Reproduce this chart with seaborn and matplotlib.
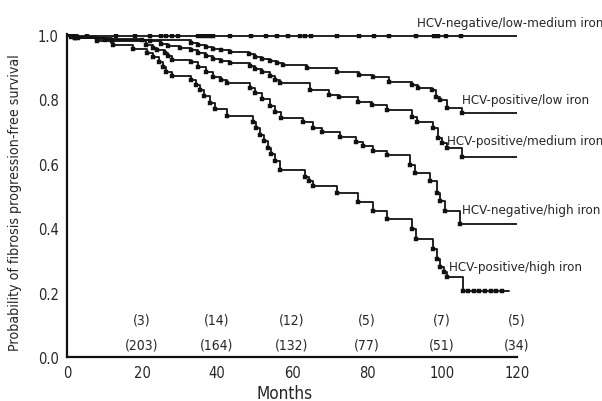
import numpy as np
import matplotlib
matplotlib.use("Agg")
from matplotlib import pyplot as plt
from matplotlib import font_manager
import seaborn as sns

# step curves: time (months) where survival changes, and survival after the change
neg_lowmed_t = [0, 120]
neg_lowmed_s = [0.997, 0.997]
neg_lowmed_cens = [5.3, 13, 18, 22, 25, 26.5, 28, 29.5, 35, 36, 37, 38, 39, 43.5, 49, 53,
                   56, 59, 62, 63.5, 65, 72, 78, 82, 86, 93, 98, 99, 101, 105]

pos_low_t = [0, 1, 8, 20, 33, 35, 37, 39, 41, 43.5, 48.5, 50, 52, 54, 56, 57.7, 64, 72,
             78, 81.7, 86, 92, 93.5, 97.3, 98.5, 99.5, 101.3, 105.3, 120]
pos_low_s = [1.0, 0.993, 0.988, 0.985, 0.975, 0.968, 0.962, 0.957, 0.952, 0.948, 0.94, 0.932,
             0.925, 0.918, 0.912, 0.907, 0.898, 0.885, 0.876, 0.87, 0.854, 0.845, 0.836, 0.83,
             0.808, 0.799, 0.774, 0.758, 0.758]

pos_med_t = [0, 2, 10, 22, 25, 27, 30, 33, 35, 37, 39, 41, 43.5, 48.8, 50, 52, 54, 55.5, 56.8,
             64.8, 70, 72.5, 77.6, 81.3, 85.3, 92, 93.3, 97.6, 98.9, 100, 101.3, 105.3, 120]
pos_med_s = [1.0, 0.99, 0.985, 0.98, 0.972, 0.965, 0.958, 0.954, 0.945, 0.935, 0.926, 0.918,
             0.913, 0.905, 0.895, 0.885, 0.872, 0.86, 0.851, 0.83, 0.815, 0.808, 0.793, 0.783,
             0.768, 0.746, 0.73, 0.712, 0.681, 0.665, 0.65, 0.622, 0.622]

neg_high_t = [0, 3, 12, 21, 23, 24, 26, 27, 28, 33, 35, 37, 39, 41, 42.7, 48.8, 50, 52, 54,
              55.5, 57, 63, 65.6, 68, 72.8, 77, 79, 81.6, 85.3, 91.5, 92.8, 96.8, 98.6, 99.5,
              100.8, 104.8, 120]
neg_high_s = [1.0, 0.99, 0.98, 0.97, 0.96, 0.954, 0.945, 0.935, 0.923, 0.915, 0.9, 0.885, 0.87,
              0.86, 0.851, 0.835, 0.82, 0.8, 0.78, 0.76, 0.743, 0.73, 0.712, 0.7, 0.684, 0.668,
              0.655, 0.64, 0.628, 0.597, 0.572, 0.545, 0.51, 0.483, 0.452, 0.412, 0.412]

pos_high_t = [0, 2, 8, 12.3, 17.6, 21.3, 23, 24.5, 25.5, 26.5, 28, 33, 34.5, 35.5, 36.5, 38,
              39.5, 42.7, 49.5, 50.5, 51.5, 52.5, 53.5, 54.5, 55.5, 56.8, 63.5, 64.5, 65.6, 72,
              77.6, 81.6, 85.3, 92, 93, 97.6, 98.6, 99.5, 100.5, 101.3, 105.6, 118]
pos_high_s = [1.0, 0.99, 0.98, 0.969, 0.957, 0.944, 0.93, 0.915, 0.9, 0.885, 0.873, 0.86, 0.845,
              0.83, 0.81, 0.79, 0.77, 0.749, 0.73, 0.71, 0.69, 0.67, 0.65, 0.63, 0.61, 0.582,
              0.56, 0.545, 0.53, 0.51, 0.48, 0.452, 0.427, 0.396, 0.365, 0.334, 0.303, 0.28,
              0.265, 0.248, 0.204, 0.204]
pos_high_cens = [107, 108.5, 110, 111.5, 113, 114.5, 116]

curve_labels = ["HCV-negative/low-medium iron", "HCV-positive/low iron",
                "HCV-positive/medium iron", "HCV-negative/high iron", "HCV-positive/high iron"]
label_xy = [(93.3, 1.04), (105.3, 0.80), (101.3, 0.672), (105.3, 0.458), (101.9, 0.282)]

tick_months = [20, 40, 60, 80, 100, 120]
events = ["(3)", "(14)", "(12)", "(5)", "(7)", "(5)"]
at_risk = ["(203)", "(164)", "(132)", "(77)", "(51)", "(34)"]

sns.set_style("white")

# the original uses a condensed face; pick a narrow one if there is one
fonts = font_manager.fontManager.ttflist
names = {f.name for f in fonts}
condensed = [f for f in fonts if 'ondensed' in f.fname or 'Narrow' in f.fname]
if 'Liberation Sans Narrow' in names:
    plt.rcParams['font.family'] = ['Liberation Sans Narrow', 'DejaVu Sans']
    fstretch, scale = 'normal', 1.0
elif condensed:
    plt.rcParams['font.family'] = [condensed[0].name, 'DejaVu Sans']
    fstretch, scale = condensed[0].stretch, 1.0
else:
    plt.rcParams['font.family'] = ['Liberation Sans', 'DejaVu Sans']
    fstretch, scale = 'normal', 0.95
plt.rcParams['font.stretch'] = fstretch

fig = plt.figure(figsize=(6.02, 4.02), dpi=100)
ax = fig.add_axes([0.1113, 0.1095, 0.7475, 0.8035])

curves = [(neg_lowmed_t, neg_lowmed_s), (pos_low_t, pos_low_s), (pos_med_t, pos_med_s),
          (neg_high_t, neg_high_s), (pos_high_t, pos_high_s)]
for t, s in curves:
    sns.lineplot(x=t, y=s, drawstyle='steps-post', color='#111111', linewidth=1.3,
                 sort=False, estimator=None, ax=ax)
    # markers at the drop points
    sns.scatterplot(x=t[1:-1], y=s[1:-1], marker='s', s=6, color='#111111',
                    edgecolor='#111111', linewidth=0.3, ax=ax)

def step_value(t, s, x):
    idx = np.searchsorted(t, x, side='right') - 1
    return np.array(s)[idx]

for t, s, cens in [(neg_lowmed_t, neg_lowmed_s, neg_lowmed_cens),
                   (pos_high_t, pos_high_s, pos_high_cens)]:
    sns.scatterplot(x=cens, y=step_value(t, s, cens), marker='s', s=5, color='#111111',
                    edgecolor='#111111', linewidth=0.3, ax=ax)

for lab, (x, y) in zip(curve_labels, label_xy):
    ax.text(x, y, lab, fontsize=9.5 * scale, ha='left', va='center', clip_on=False)

for m, e, r in zip(tick_months, events, at_risk):
    ax.text(m, 0.115, e, fontsize=10 * scale, ha='center', va='center')
    ax.text(m, 0.040, r, fontsize=10 * scale, ha='center', va='center')

ax.set_xlim(0, 120)
ax.set_ylim(0, 1.003)
ax.set_xticks(range(0, 121, 20))
ax.set_xticks(range(10, 121, 20), minor=True)
ax.set_yticks(np.arange(0, 1.01, 0.2))
ax.set_yticklabels([f"{v:.1f}" for v in np.arange(0, 1.01, 0.2)])
ax.tick_params(axis='both', which='both', direction='in', length=2, width=1.2,
               labelsize=10.5 * scale, pad=6, color='#111111')
ax.set_xlabel("Months", fontsize=12.3 * scale)
ax.set_ylabel("Probability of fibrosis progression-free survival", fontsize=10.2 * scale)
ax.xaxis.set_label_coords(0.483, -0.085)
ax.yaxis.set_label_coords(-0.099, 0.481)
sns.despine(ax=ax)
for sp in ['left', 'bottom']:
    ax.spines[sp].set_linewidth(1.6)
    ax.spines[sp].set_color('#111111')

fig.savefig("out.png", dpi=100)
